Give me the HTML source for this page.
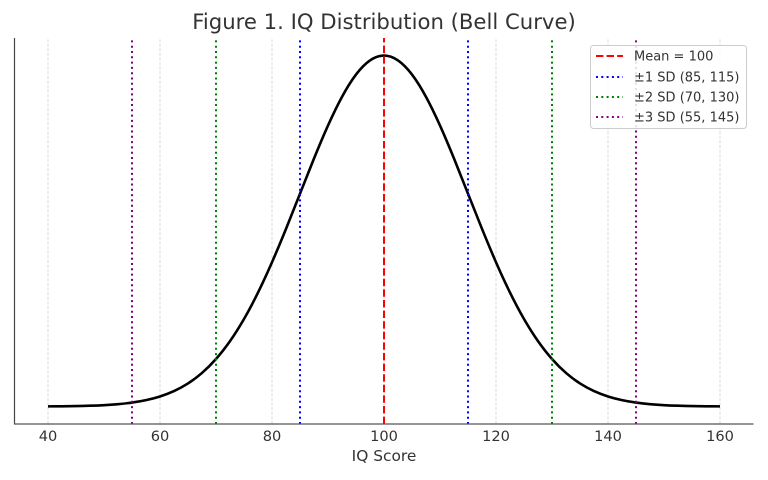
<!DOCTYPE html>
<html>
<head>
<meta charset="utf-8">
<style>
  html, body { margin: 0; padding: 0; background: #fff; }
  svg { display: block; }
  text { font-family: "DejaVu Sans", "Liberation Sans", sans-serif; fill: #333; }
</style>
</head>
<body>
<svg width="768" height="480" viewBox="0 0 768 480" xmlns="http://www.w3.org/2000/svg">
  <rect x="0" y="0" width="768" height="480" fill="#fff"/>
  <!-- title -->
  <text x="384" y="29" font-size="21.2" text-anchor="middle">Figure 1. IQ Distribution (Bell Curve)</text>

  <!-- grid -->
  <g stroke="#d9d9d9" stroke-width="1" stroke-dasharray="3 1.6">
    <line x1="48" y1="424" x2="48" y2="38"/>
    <line x1="160" y1="424" x2="160" y2="38"/>
    <line x1="272" y1="424" x2="272" y2="38"/>
    <line x1="384" y1="424" x2="384" y2="38"/>
    <line x1="496" y1="424" x2="496" y2="38"/>
    <line x1="608" y1="424" x2="608" y2="38"/>
    <line x1="720" y1="424" x2="720" y2="38"/>
  </g>

  <!-- curve -->
  <path fill="none" stroke="#000" stroke-width="2.6" stroke-linejoin="round" d="M48,406.38 C52.67,406.35 57.33,406.32 62,406.27
    S71.33,406.17 76,406.08 S85.33,405.88 90,405.73 S99.33,405.39 104,405.14 S113.33,404.58 118,404.17
    S127.33,403.25 132,402.60 S141.33,401.16 146,400.16 S155.33,397.97 160,396.48 S169.33,393.22 174,391.08
    S183.33,386.43 188,383.44 S197.33,376.98 202,372.94 S211.33,364.29 216,359.01 S225.33,347.80 230,341.14
    S239.33,327.10 244,319.00 S253.33,302.07 258,292.58 S267.33,272.93 272,262.24 S281.33,240.35 286,228.83
    S295.33,205.49 300,193.67 S309.33,170.02 314,158.54 S323.33,135.93 328,125.52 S337.33,105.43 342,96.83
    S351.33,80.71 356,74.56 S365.33,63.64 370,60.44 S379.33,55.6 384,55.6
    S393.33,57.24 398,60.44 S407.33,68.41 412,74.56 S421.33,88.23 426,96.83 S435.33,115.11 440,125.52
    S449.33,147.06 454,158.54 S463.33,181.85 468,193.67 S477.33,217.31 482,228.83 S491.33,251.55 496,262.24
    S505.33,283.09 510,292.58 S519.33,310.90 524,319.00 S533.33,334.48 538,341.14 S547.33,353.73 552,359.01
    S561.33,368.90 566,372.94 S575.33,380.45 580,383.44 S589.33,388.94 594,391.08 S603.33,394.99 608,396.48
    S617.33,399.16 622,400.16 S631.33,401.95 636,402.60 S645.33,403.76 650,404.17 S659.33,404.89 664,405.14
    S673.33,405.58 678,405.73 S687.33,405.99 692,406.08 S701.33,406.22 706,406.27 S715.33,406.35 720,406.38"/>

  <!-- reference lines -->
  <line x1="384" y1="424" x2="384" y2="38" stroke="#ff0000" stroke-width="2" stroke-dasharray="7.4 3.2"/>
  <g stroke-width="2" stroke-dasharray="2 3.3">
    <line x1="300" y1="424" x2="300" y2="38" stroke="#0000ff"/>
    <line x1="468" y1="424" x2="468" y2="38" stroke="#0000ff"/>
    <line x1="216" y1="424" x2="216" y2="38" stroke="#008000"/>
    <line x1="552" y1="424" x2="552" y2="38" stroke="#008000"/>
    <line x1="132" y1="424" x2="132" y2="38" stroke="#800080"/>
    <line x1="636" y1="424" x2="636" y2="38" stroke="#800080"/>
  </g>

  <!-- spines -->
  <line x1="14.5" y1="38" x2="14.5" y2="424.5" stroke="#444" stroke-width="1.2"/>
  <line x1="14" y1="424" x2="753.5" y2="424" stroke="#555" stroke-width="1.3"/>

  <!-- tick labels -->
  <g font-size="14.6" text-anchor="middle">
    <text x="48" y="441">40</text>
    <text x="160" y="441">60</text>
    <text x="272" y="441">80</text>
    <text x="384" y="441">100</text>
    <text x="496" y="441">120</text>
    <text x="608" y="441">140</text>
    <text x="720" y="441">160</text>
  </g>
  <text x="384" y="461" font-size="15.4" text-anchor="middle">IQ Score</text>

  <!-- legend -->
  <rect x="590.5" y="45.5" width="156" height="83" rx="3" ry="3" fill="#fff" fill-opacity="0.85" stroke="#cccccc" stroke-width="1"/>
  <line x1="596" y1="56" x2="623" y2="56" stroke="#ff0000" stroke-width="2" stroke-dasharray="7.4 3.2"/>
  <line x1="596" y1="77" x2="623" y2="77" stroke="#0000ff" stroke-width="2" stroke-dasharray="2 3.3"/>
  <line x1="596" y1="97" x2="623" y2="97" stroke="#008000" stroke-width="2" stroke-dasharray="2 3.3"/>
  <line x1="596" y1="117" x2="623" y2="117" stroke="#800080" stroke-width="2" stroke-dasharray="2 3.3"/>
  <g font-size="13">
    <text x="634" y="60.5">Mean = 100</text>
    <text x="634" y="81.5">±1 SD (85, 115)</text>
    <text x="634" y="101.5">±2 SD (70, 130)</text>
    <text x="634" y="121.5">±3 SD (55, 145)</text>
  </g>
</svg>
</body>
</html>
